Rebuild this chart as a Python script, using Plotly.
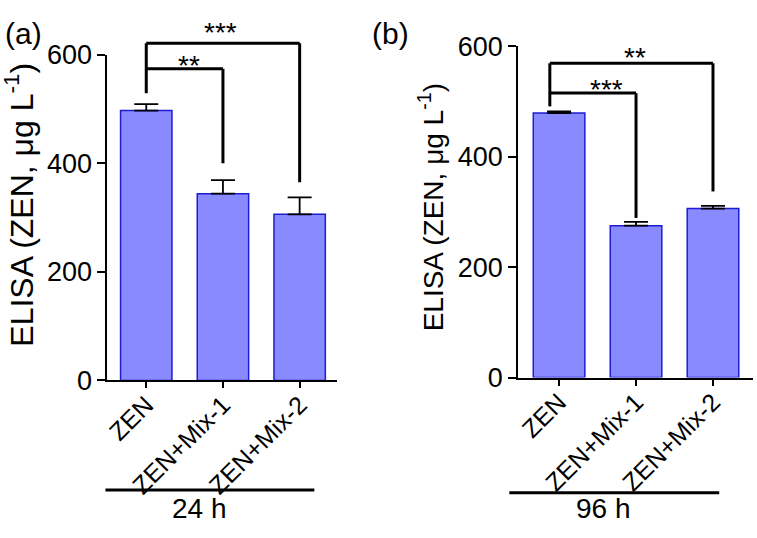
import plotly.graph_objects as go

# ---------------- data ----------------
categories = ["ZEN", "ZEN+Mix-1", "ZEN+Mix-2"]
values_24h = [497, 344, 306]
errors_24h = [12, 25, 31]
values_96h = [479, 275, 306]
errors_96h = [3, 7, 5]
y_ticks = [0, 200, 400, 600]
time_labels = ["24 h", "96 h"]
panel_labels = ["(a)", "(b)"]
y_title = "ELISA (ZEN, \u03bcg L<sup>-1</sup>)"

# significance brackets: (from_cat, to_cat, level, right_leg_bottom, label, label_x, label_y)
sig_24h = [(0, 1, 574, 400, "**", 0.56, 591), (0, 2, 621, 365, "***", 0.97, 652)]
sig_24h_leftleg = (0.0, 529)
sig_96h = [(0, 1, 515, 289, "***", 0.61, 533), (0, 2, 569, 337, "**", 0.99, 591)]
sig_96h_leftleg = (-0.12, 491)

FONT = "Arial, Liberation Sans, Helvetica, sans-serif"
BAR_FILL = "#8a8aff"
BAR_LINE = "#1c1cd0"

fig = go.Figure()

panels = [
    dict(vals=values_24h, errs=errors_24h, sig=sig_24h, leg=sig_24h_leftleg,
         xa="x", ya="y", xdom=[104/757, 335/757], ydom=[(538-387)/538, (538-42)/538],
         xr=[-0.506, 2.49], title_x=15/757, title_y=1-201/538, title_size=32,
         label_x=20/757, time_line=[102/757, 312/757], time_x=197/757, line_y=1-503/538),
    dict(vals=values_96h, errs=errors_96h, sig=sig_96h, leg=sig_96h_leftleg,
         xa="x2", ya="y2", xdom=[517/757, 753/757], ydom=[(538-384)/538, (538-33)/538],
         xr=[-0.53, 2.52], title_x=429/757, title_y=1-204/538, title_size=28,
         label_x=389/757, time_line=[508/757, 719/757], time_x=603/757, line_y=1-506/538),
]

for i, p in enumerate(panels):
    fig.add_trace(go.Bar(
        x=list(range(len(categories))), y=p["vals"], xaxis=p["xa"], yaxis=p["ya"],
        width=0.67, marker=dict(color=BAR_FILL, line=dict(color=BAR_LINE, width=1.5)),
        error_y=dict(type="data", symmetric=False, array=p["errs"],
                     arrayminus=[0]*len(p["errs"]), color="black", thickness=1.8, width=12),
        showlegend=False, hoverinfo="skip",
    ))
    sfx = "" if i == 0 else "2"
    xmin, xmax = p["xr"]
    ymax = y_ticks[-1]

    def xd(c, xmin=xmin, xmax=xmax):
        return (c - xmin) / (xmax - xmin)

    def yd(v, ymax=ymax):
        return v / ymax

    xref = "x%s domain" % sfx
    yref = "y%s domain" % sfx
    line = dict(color="black", width=3)
    top = max(s[2] for s in p["sig"])
    lx, lb = p["leg"]
    fig.add_shape(type="line", xref=xref, yref=yref, x0=xd(lx), x1=xd(lx),
                  y0=yd(lb), y1=yd(top), line=line)
    for (c0, c1, lvl, rb, lab, tx, ty) in p["sig"]:
        fig.add_shape(type="line", xref=xref, yref=yref, x0=xd(lx), x1=xd(c1),
                      y0=yd(lvl), y1=yd(lvl), line=line)
        fig.add_shape(type="line", xref=xref, yref=yref, x0=xd(c1), x1=xd(c1),
                      y0=yd(rb), y1=yd(lvl), line=line)
        fig.add_annotation(xref=xref, yref=yref, x=xd(tx), y=yd(ty), text=lab,
                           showarrow=False, font=dict(size=28, color="black", family=FONT),
                           yanchor="middle", xanchor="center", yshift=-6)

    fig.add_annotation(xref="paper", yref="paper", x=p["title_x"], y=p["title_y"],
                       text=y_title, textangle=-90, showarrow=False,
                       font=dict(size=p["title_size"], color="black", family=FONT),
                       xanchor="center", yanchor="middle")
    fig.add_annotation(xref="paper", yref="paper", x=p["label_x"], y=1-20/538,
                       text=panel_labels[i], showarrow=False,
                       font=dict(size=30, color="black", family=FONT),
                       xanchor="center", yanchor="middle")
    fig.add_shape(type="line", xref="paper", yref="paper",
                  x0=p["time_line"][0], x1=p["time_line"][1],
                  y0=p["line_y"], y1=p["line_y"], line=dict(color="black", width=3))
    fig.add_annotation(xref="paper", yref="paper", x=p["time_x"], y=1-523/538,
                       text=time_labels[i], showarrow=False,
                       font=dict(size=28, color="black", family=FONT),
                       xanchor="center", yanchor="middle")

    axis_common = dict(showline=True, linecolor="black", linewidth=2, ticks="outside",
                       tickcolor="black", tickwidth=2, showgrid=False, zeroline=False)
    fig.update_layout(**{
        "xaxis%s" % sfx: dict(domain=p["xdom"], range=p["xr"], tickvals=list(range(3)),
                              ticktext=categories, tickangle=-45, ticklen=6,
                              ticklabelstandoff=-8,
                              tickfont=dict(size=25, color="black", family=FONT),
                              anchor="y%s" % sfx, **axis_common),
        "yaxis%s" % sfx: dict(domain=p["ydom"], range=[0, ymax], tickvals=y_ticks,
                              ticklen=8, anchor="x%s" % sfx,
                              tickfont=dict(size=27, color="black", family=FONT),
                              **axis_common),
    })

fig.update_layout(width=757, height=538, margin=dict(l=0, r=0, t=0, b=0),
                  plot_bgcolor="white", paper_bgcolor="white", bargap=0.33,
                  font=dict(family=FONT, color="black"))

fig.write_html(
    "out.html",
    config={"displayModeBar": False, "staticPlot": True},
    post_script="document.documentElement.style.margin='0';document.body.style.margin='0';"
                "document.documentElement.style.overflow='hidden';document.body.style.overflow='hidden';",
)
